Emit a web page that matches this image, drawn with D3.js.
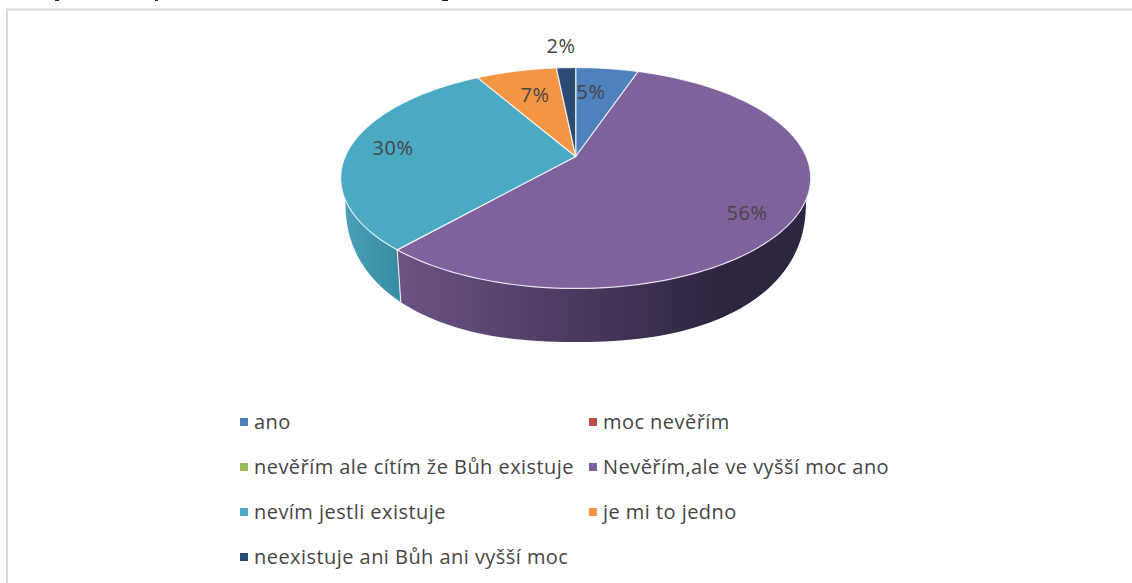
<!DOCTYPE html>
<html><head><meta charset="utf-8">
<script src="https://cdn.jsdelivr.net/npm/d3@7/dist/d3.min.js"></script>
<style>html,body{margin:0;padding:0;background:#fff}svg{display:block}</style>
</head><body><svg id="c" width="1132" height="583"></svg>
<script>
const categories = ["ano","moc nevěřím","nevěřím ale cítím že Bůh existuje","Nevěřím,ale ve vyšší moc ano","nevím jestli existuje","je mi to jedno","neexistuje ani Bůh ani vyšší moc"];
const values = [5.2,0,0,56.3,30.2,6.7,1.6];
const colors = ["#4f81bd","#c0504d","#9bbb59","#7f619c","#4aa9c3","#f39544","#2a4b74"];
const labelAnchors = [[591,92],null,null,[747,213],[393,148],[535,95],[561,46]];
const sideStops = {3:["#6c5285","#2e2540"],4:["#4aa0b8","#378ba1"]};
const croppedMarks = [[55,4],[155,3],[442,6]];

const svg = d3.select("#c"), font = "'Open Sans',sans-serif", ink = "#454545";
svg.append("path").attr("d","M7,583V9.5H1132").attr("fill","none").attr("stroke","#d9d9d9").attr("stroke-width",2);
svg.append("g").selectAll("rect").data(croppedMarks).join("rect")
  .attr("x",d=>d[0]).attr("y",0).attr("width",d=>d[1]).attr("height",1).attr("fill","#222");

const cx=575.7, y0=156.5, A=230.5, B=106.3, k=0.1946;
const top3=a=>{const u=Math.sin(a),v=-Math.cos(a),d=1-k*v;return [cx+A*u/d,y0+B*v/d,v];};
const low3=a=>{const p=top3(a);
  if(p[2]<=k) return [p[0],p[1]];
  const x=cx+0.98*(p[0]-cx),t=Math.min(1,Math.abs(x-cx)/230.3),
  h=142*Math.pow(1-Math.pow(t,2.3),1/2.3);return [x,Math.max(p[1],200+h)];};

const pie=d3.pie().value(d=>d).sort(null)(values);
const defs=svg.append("defs");
const sides=svg.append("g"), tops=svg.append("g");
const samples=(d)=>d3.range(0,121).map(i=>d.startAngle+(d.endAngle-d.startAngle)*i/120);
const line=d3.line();
pie.forEach((d,i)=>{
  if(d.value===0) return;
  const as=samples(d);
  if(sideStops[i]){
    const g=defs.append("linearGradient").attr("id","g"+i).attr("gradientUnits","userSpaceOnUse")
      .attr("x1",i===3?400:345).attr("x2",i===3?720:400).attr("y1",0).attr("y2",0);
    g.append("stop").attr("offset",0).attr("stop-color",sideStops[i][0]);
    g.append("stop").attr("offset",1).attr("stop-color",sideStops[i][1]);
    const pts=as.map(a=>top3(a).slice(0,2)).concat(as.slice().reverse().map(low3));
    sides.append("path").attr("d",line(pts)+"Z").attr("fill",`url(#g${i})`);
  }
  const pts=[[cx,y0]].concat(as.map(a=>top3(a).slice(0,2)));
  tops.append("path").attr("d",line(pts)+"Z").attr("fill",colors[i]).attr("stroke","#fff").attr("stroke-opacity",.8).attr("stroke-width",1.2).attr("stroke-linejoin","round");
});
const seam=pie[4].startAngle;
sides.append("path").attr("d",line([top3(seam).slice(0,2),low3(seam)])).attr("stroke","#fff").attr("stroke-opacity",.8).attr("stroke-width",1.2);

const labels=svg.append("g").attr("font-family",font).attr("font-size",20).attr("letter-spacing",.45).attr("fill",ink).attr("text-anchor","middle");
pie.forEach((d,i)=>{ if(d.value===0) return;
  labels.append("text").attr("x",labelAnchors[i][0]).attr("y",labelAnchors[i][1]+7).text(d3.format(".0f")(d.value)+"%");
});

const colX=d3.scaleOrdinal().domain([0,1]).range([236,585]);
const rowY=d3.scalePoint().domain([0,1,2,3]).range([422,557]);
const leg=svg.append("g").attr("font-family",font).attr("font-size",20).attr("letter-spacing",.45).attr("fill",ink);
categories.forEach((c,i)=>{
  const x=colX(i%2), y=rowY(Math.floor(i/2));
  leg.append("rect").attr("x",x+4).attr("y",y-4).attr("width",8).attr("height",8).attr("fill",colors[i]);
  leg.append("text").attr("x",x+18).attr("y",y+7).text(c);
});
</script></body></html>
